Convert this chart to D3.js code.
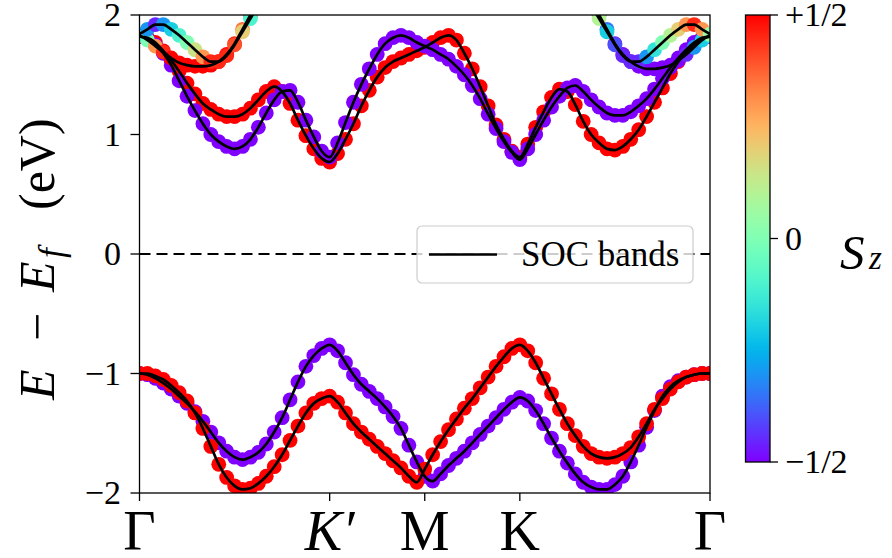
<!DOCTYPE html>
<html>
<head>
<meta charset="utf-8">
<script src="https://cdn.jsdelivr.net/npm/d3@7"></script>
<style>
  html, body { margin: 0; padding: 0; background: #fff; }
</style>
</head>
<body>
<svg id="chart" width="892" height="558"></svg>
<script>
// ---- path through the Brillouin zone ----
const kTicks = [0, 2, 3, 4, 6];
const kLabels = ["Γ", "K′", "M", "K", "Γ"];
const kStep = 1 / 12;          // mesh spacing along the path
const eTicks = [-2, -1, 0, 1, 2];
const szTicks = [-0.5, 0, 0.5];
const szTickLabels = ["−1/2", "0", "+1/2"];

// ---- valence bands (eV), Γ → K′ → M → K → Γ ----
const vbDown = [
  -1.00, -1.01, -1.04, -1.08, -1.13, -1.19, -1.25, -1.32, -1.40, -1.49, -1.58, -1.65, -1.70,
  -1.72, -1.70, -1.66, -1.59, -1.49, -1.37, -1.22, -1.07, -0.94, -0.85, -0.79, -0.76,
  -0.81, -0.91, -1.01, -1.09, -1.15, -1.21, -1.28, -1.36, -1.46, -1.60, -1.74, -1.86,
  -1.90, -1.84, -1.77, -1.71, -1.65, -1.58, -1.51, -1.44, -1.37, -1.30, -1.24, -1.20,
  -1.23, -1.31, -1.42, -1.54, -1.65, -1.75, -1.84, -1.91, -1.95, -1.97, -1.97, -1.93,
  -1.86, -1.74, -1.60, -1.45, -1.31, -1.19, -1.11, -1.06, -1.03, -1.01, -1.00, -1.00
];
const vbUp = [
  -1.00, -1.00, -1.02, -1.05, -1.10, -1.16, -1.23, -1.33, -1.46, -1.61, -1.76, -1.87, -1.94,
  -1.97, -1.96, -1.92, -1.86, -1.78, -1.68, -1.56, -1.44, -1.33, -1.25, -1.21, -1.19,
  -1.24, -1.33, -1.42, -1.49, -1.55, -1.61, -1.67, -1.73, -1.79, -1.86, -1.91, -1.80,
  -1.68, -1.57, -1.47, -1.38, -1.29, -1.21, -1.12, -1.03, -0.94, -0.86, -0.79, -0.76,
  -0.81, -0.91, -1.04, -1.17, -1.30, -1.42, -1.52, -1.61, -1.67, -1.70, -1.71, -1.70,
  -1.67, -1.62, -1.53, -1.42, -1.30, -1.21, -1.13, -1.07, -1.03, -1.01, -1.00, -1.00
];

// ---- lowest conduction bands (eV) ----
const cbDown = [
  1.82, 1.80, 1.75, 1.68, 1.58, 1.45, 1.32, 1.20, 1.09, 1.00, 0.94, 0.90, 0.88,
  0.90, 0.96, 1.06, 1.18, 1.29, 1.36, 1.37, 1.27, 1.12, 0.98, 0.86, 0.81,
  0.93, 1.10, 1.27, 1.42, 1.55, 1.67, 1.76, 1.81, 1.83, 1.81, 1.77, 1.74,
  1.71, 1.67, 1.63, 1.57, 1.50, 1.41, 1.30, 1.17, 1.05, 0.94, 0.85, 0.79,
  0.88, 1.00, 1.12, 1.23, 1.32, 1.39, 1.41, 1.36, 1.29, 1.23, 1.18, 1.16,
  1.16, 1.19, 1.24, 1.30, 1.38, 1.47, 1.56, 1.64, 1.71, 1.77, 1.81, 1.82
];
const cbUp = [
  1.82, 1.81, 1.77, 1.70, 1.62, 1.53, 1.43, 1.34, 1.26, 1.21, 1.17, 1.15, 1.15,
  1.17, 1.22, 1.29, 1.36, 1.40, 1.36, 1.26, 1.12, 0.99, 0.88, 0.80, 0.77,
  0.84, 0.96, 1.09, 1.24, 1.37, 1.48, 1.56, 1.61, 1.64, 1.67, 1.70, 1.73,
  1.77, 1.81, 1.83, 1.79, 1.68, 1.55, 1.40, 1.24, 1.08, 0.96, 0.86, 0.81,
  0.92, 1.06, 1.19, 1.31, 1.38, 1.36, 1.25, 1.11, 1.00, 0.93, 0.88, 0.87,
  0.90, 0.96, 1.04, 1.15, 1.27, 1.39, 1.51, 1.61, 1.69, 1.75, 1.80, 1.82
];

// ---- higher conduction bands near Γ (only the part below 2 eV is visible) ----
// left branch: mesh points 0..15, right branch: mesh points 57..72
const upperLeftStart = 0;
const upperRightStart = 57;
const upperLeftA = [1.84, 1.88, 1.92, 1.92, 1.88, 1.83, 1.77, 1.71, 1.65, 1.61, 1.61, 1.66, 1.75, 1.86, 1.97, 2.08];
const upperLeftASz = [-0.05, -0.3, -0.45, -0.3, -0.2, -0.1, 0.0, 0.15, 0.3, 0.45, 0.45, 0.45, 0.4, 0.2, -0.1, 0.45];
const upperLeftB = [1.83, 1.79, 1.74, 1.69, 1.64, 1.60, 1.58, 1.57, 1.57, 1.58, 1.61, 1.67, 1.76, 1.88, 2.00, 2.12];
const upperLeftBSz = [0.1, 0.0, 0.3, 0.45, 0.5, 0.5, 0.5, 0.5, 0.5, 0.5, 0.5, 0.5, 0.45, 0.35, 0.45, 0.5];
const upperRightA = [2.08, 1.97, 1.86, 1.75, 1.66, 1.61, 1.61, 1.65, 1.71, 1.77, 1.83, 1.88, 1.92, 1.92, 1.88, 1.84];
const upperRightASz = [-0.45, 0.1, -0.2, -0.4, -0.45, -0.45, -0.45, -0.3, -0.15, 0.0, 0.1, 0.2, 0.3, 0.45, 0.3, 0.05];
const upperRightB = [2.12, 2.00, 1.88, 1.76, 1.67, 1.61, 1.57, 1.55, 1.55, 1.56, 1.58, 1.62, 1.67, 1.73, 1.79, 1.83];
const upperRightBSz = [-0.5, -0.45, -0.35, -0.45, -0.5, -0.5, -0.5, -0.5, -0.5, -0.5, -0.5, -0.5, -0.45, -0.3, -0.2, -0.1];

// ---- figure geometry ----
const FONT = "Liberation Serif";
const plot = { left: 139.5, right: 710, top: 15, bottom: 493 };
const cbar = { x: 745.5, y: 15, w: 24.5, h: 447 };

const svg = d3.select("#chart");
const x = d3.scaleLinear().domain([kTicks[0], kTicks[kTicks.length - 1]]).range([plot.left, plot.right]);
const y = d3.scaleLinear().domain([-2, 2]).range([plot.bottom, plot.top]);
const szScale = d3.scaleLinear().domain([-0.5, 0.5]).range([0, 1]);

// matplotlib "rainbow" colormap
function rainbow(t) {
  t = Math.max(0, Math.min(1, t));
  const r = Math.min(1, Math.abs(2 * t - 0.5));
  const g = Math.sin(Math.PI * t);
  const b = Math.cos(Math.PI * t / 2);
  return d3.rgb(r * 255, g * 255, Math.max(0, b) * 255).formatHex();
}
const szColor = s => rainbow(szScale(s));

// assemble bands: {k, e, sz} points
function band(values, start, spins, constSz) {
  return values.map((e, i) => ({
    k: (start + i) * kStep,
    e: e,
    sz: spins ? spins[i] : constSz
  }));
}
const bands = [
  band(vbDown, 0, null, -0.5),
  band(vbUp, 0, null, 0.5),
  band(cbUp, 0, null, 0.5),
  band(cbDown, 0, null, -0.5),
  band(upperLeftB, upperLeftStart, upperLeftBSz),
  band(upperLeftA, upperLeftStart, upperLeftASz),
  band(upperRightB, upperRightStart, upperRightBSz),
  band(upperRightA, upperRightStart, upperRightASz)
];

// clip region for the data
const defs = svg.append("defs");
defs.append("clipPath").attr("id", "plotClip")
  .append("rect")
  .attr("x", plot.left).attr("y", plot.top)
  .attr("width", plot.right - plot.left).attr("height", plot.bottom - plot.top);

const dataG = svg.append("g").attr("clip-path", "url(#plotClip)");

// Fermi level
dataG.append("line")
  .attr("x1", plot.left).attr("x2", plot.right)
  .attr("y1", y(0)).attr("y2", y(0))
  .attr("stroke", "#000").attr("stroke-width", 2)
  .attr("stroke-dasharray", "11,6");

// spin-projected markers
bands.forEach(b => {
  dataG.append("g").selectAll("circle")
    .data(b).join("circle")
    .attr("cx", d => x(d.k))
    .attr("cy", d => y(d.e))
    .attr("r", 7.4)
    .attr("fill", d => szColor(d.sz));
});

// SOC band lines
const line = d3.line().x(d => x(d.k)).y(d => y(d.e)).curve(d3.curveMonotoneX);
bands.forEach(b => {
  dataG.append("path")
    .attr("d", line(b))
    .attr("fill", "none")
    .attr("stroke", "#000")
    .attr("stroke-width", 2.7)
    .attr("stroke-linejoin", "round");
});

// axes frame
svg.append("rect")
  .attr("x", plot.left).attr("y", plot.top)
  .attr("width", plot.right - plot.left).attr("height", plot.bottom - plot.top)
  .attr("fill", "none").attr("stroke", "#000").attr("stroke-width", 1.3);

// y axis
const yAxis = svg.append("g");
yAxis.selectAll("line").data(eTicks).join("line")
  .attr("x1", plot.left - 9).attr("x2", plot.left)
  .attr("y1", d => y(d)).attr("y2", d => y(d))
  .attr("stroke", "#000").attr("stroke-width", 1.3);
yAxis.selectAll("text").data(eTicks).join("text")
  .attr("x", 121).attr("y", d => y(d) + 11)
  .attr("text-anchor", "end")
  .attr("font-family", FONT).attr("font-size", 34)
  .text(d => d < 0 ? "−" + Math.abs(d) : String(d));

// x axis
const xAxis = svg.append("g");
xAxis.selectAll("line").data(kTicks).join("line")
  .attr("x1", d => x(d)).attr("x2", d => x(d))
  .attr("y1", plot.bottom).attr("y2", plot.bottom + 8)
  .attr("stroke", "#000").attr("stroke-width", 1.3);
xAxis.selectAll("text").data(kTicks).join("text")
  .attr("x", d => x(d)).attr("y", 550)
  .attr("text-anchor", "middle")
  .attr("font-family", FONT).attr("font-size", 56)
  .attr("font-style", (d, i) => kLabels[i] === "K′" ? "italic" : "normal")
  .text((d, i) => kLabels[i]);

// y label: E − E_f (eV), laid out along the rotated baseline
const yl = svg.append("g")
  .attr("transform", "translate(54,400) rotate(-90)")
  .attr("font-family", FONT).attr("font-size", 50);
const ylParts = [
  { t: "E", at: 0, italic: true },
  { t: "−", at: 59 },
  { t: "E", at: 108, italic: true },
  { t: "f", at: 142, italic: true, sub: true },
  { t: "(eV)", at: 190 }
];
ylParts.forEach(p => {
  yl.append("text")
    .attr("x", p.at).attr("y", p.sub ? 9 : 0)
    .attr("font-style", p.italic ? "italic" : "normal")
    .attr("font-size", p.sub ? 35 : null)
    .text(p.t);
});

// legend
const lg = svg.append("g");
lg.append("rect")
  .attr("x", 417).attr("y", 226).attr("width", 276).attr("height", 57)
  .attr("rx", 5).attr("ry", 5)
  .attr("fill", "#fff").attr("fill-opacity", 0.8)
  .attr("stroke", "#cccccc").attr("stroke-width", 1.2);
lg.append("line")
  .attr("x1", 429).attr("x2", 497).attr("y1", 254.5).attr("y2", 254.5)
  .attr("stroke", "#000").attr("stroke-width", 2.7);
lg.append("text")
  .attr("x", 521).attr("y", 266)
  .attr("font-family", FONT).attr("font-size", 35)
  .text("SOC bands");

// colorbar
const grad = defs.append("linearGradient")
  .attr("id", "szGrad").attr("x1", 0).attr("y1", 1).attr("x2", 0).attr("y2", 0);
d3.range(0, 1.0001, 0.02).forEach(t => {
  grad.append("stop").attr("offset", t).attr("stop-color", rainbow(t));
});
svg.append("rect")
  .attr("x", cbar.x).attr("y", cbar.y).attr("width", cbar.w).attr("height", cbar.h)
  .attr("fill", "url(#szGrad)").attr("stroke", "#000").attr("stroke-width", 1.3);
const cy = d3.scaleLinear().domain([-0.5, 0.5]).range([cbar.y + cbar.h, cbar.y]);
const cb = svg.append("g");
cb.selectAll("line").data(szTicks).join("line")
  .attr("x1", cbar.x + cbar.w).attr("x2", cbar.x + cbar.w + 8)
  .attr("y1", d => cy(d)).attr("y2", d => cy(d))
  .attr("stroke", "#000").attr("stroke-width", 1.3);
cb.selectAll("text").data(szTicks).join("text")
  .attr("x", cbar.x + cbar.w + 15).attr("y", d => cy(d) + 11)
  .attr("font-family", FONT).attr("font-size", 34)
  .text((d, i) => szTickLabels[i]);

// colorbar label S_z
const sz = svg.append("g").attr("font-family", FONT).attr("font-style", "italic");
sz.append("text").attr("x", 840).attr("y", 269).attr("font-size", 49).text("S");
sz.append("text").attr("x", 869).attr("y", 269).attr("font-size", 33).text("z");
</script>
</body>
</html>
